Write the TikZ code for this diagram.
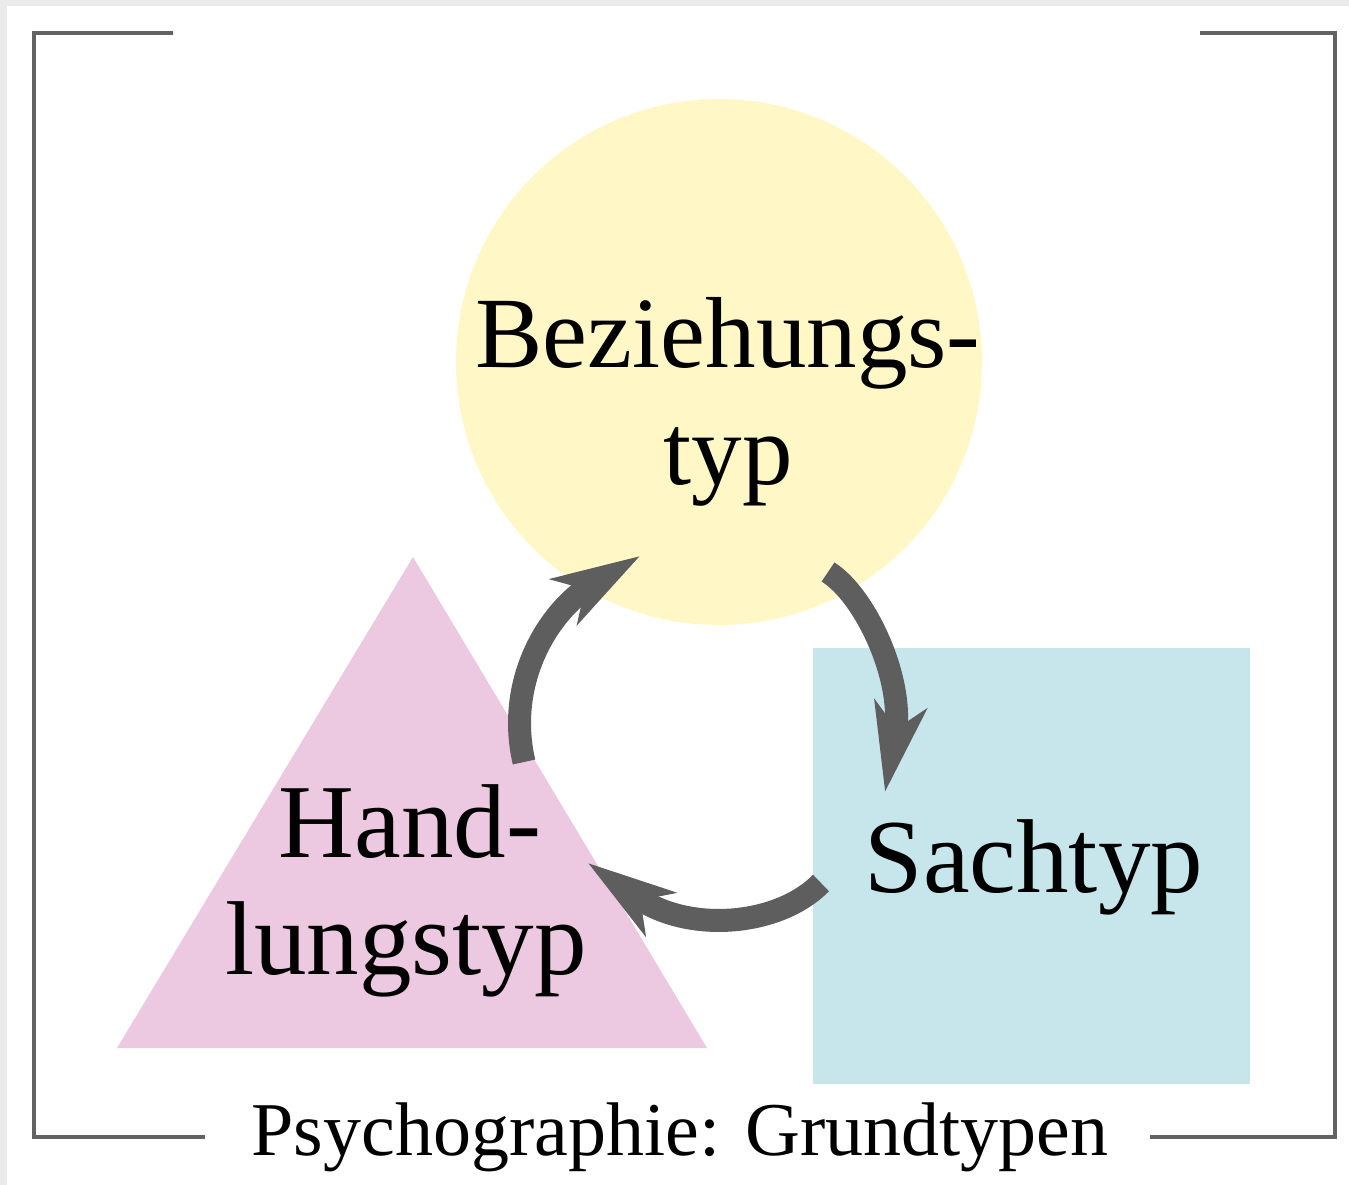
\documentclass[tikz,border=0pt]{standalone}
\usepackage{fontspec}
\setmainfont{Liberation Serif}
\usetikzlibrary{arrows.meta}
\definecolor{bgframe}{RGB}{235,235,235}
\definecolor{bracketgray}{RGB}{98,98,98}
\definecolor{arrowgray}{RGB}{94,94,94}
\definecolor{circyellow}{RGB}{255,248,198}
\definecolor{tripink}{RGB}{237,200,225}
\definecolor{sqblue}{RGB}{199,230,236}
\tikzset{
  bracket/.style={draw=bracketgray, line width=4pt},
  cyc/.style={draw=arrowgray, line width=23pt,
    -{Stealth[length=88pt,width=52pt,inset=24pt]}},
  lbl/.style={inner sep=0pt, anchor=base, font=\fontsize{101}{117}\selectfont},
  lblw/.style={inner sep=0pt, anchor=base, font=\fontsize{105}{117}\selectfont},
  captiontext/.style={inner sep=0pt, anchor=base, font=\fontsize{76}{84}\selectfont}
}
\begin{document}
\begin{tikzpicture}[x=1pt,y=-1pt]
\useasboundingbox (0,0) rectangle (1349,1185);
\fill[bgframe] (0,0) rectangle (1349,1185);
\fill[white] (7,6) rectangle (1349,1185);
% bracket frame
\draw[bracket] (173,33) -- (34,33) -- (34,1137) -- (205,1137);
\draw[bracket] (1200,33) -- (1335,33) -- (1335,1137) -- (1150,1137);
% shapes
\fill[circyellow] (719,362) circle[radius=263];
\fill[tripink] (413,557) -- (707,1048) -- (117,1048) -- cycle;
\fill[sqblue] (813,648) rectangle (1250,1084);
% arrow end points
\coordinate (a1s) at (524,762);
\coordinate (a1e) at (640,556);
\coordinate (a2s) at (828,572);
\coordinate (a2e) at (885,792);
\coordinate (a3s) at (821,883);
\coordinate (a3e) at (588,863);
\draw[cyc] (a1s) .. controls (505,680) and (550,610) .. (a1e);
\draw[cyc] (a2s) .. controls (865,595) and (905,680) .. (a2e);
\draw[cyc] (a3s) .. controls (780,925) and (690,935) .. (a3e);
% labels
\node[lbl] (bez1) at (728,367) {Beziehungs-};
\node[lbl] (bez2) at (728,484) {typ};
\node[lblw] (hand1) at (410,857) {Hand-};
\node[lblw] (hand2) at (406,974) {lungstyp};
\node[lblw] (sach) at (1034,892) {Sachtyp};
\node[captiontext] (caption) at (680,1155) {Psychographie: Grundtypen};
\end{tikzpicture}
\end{document}
